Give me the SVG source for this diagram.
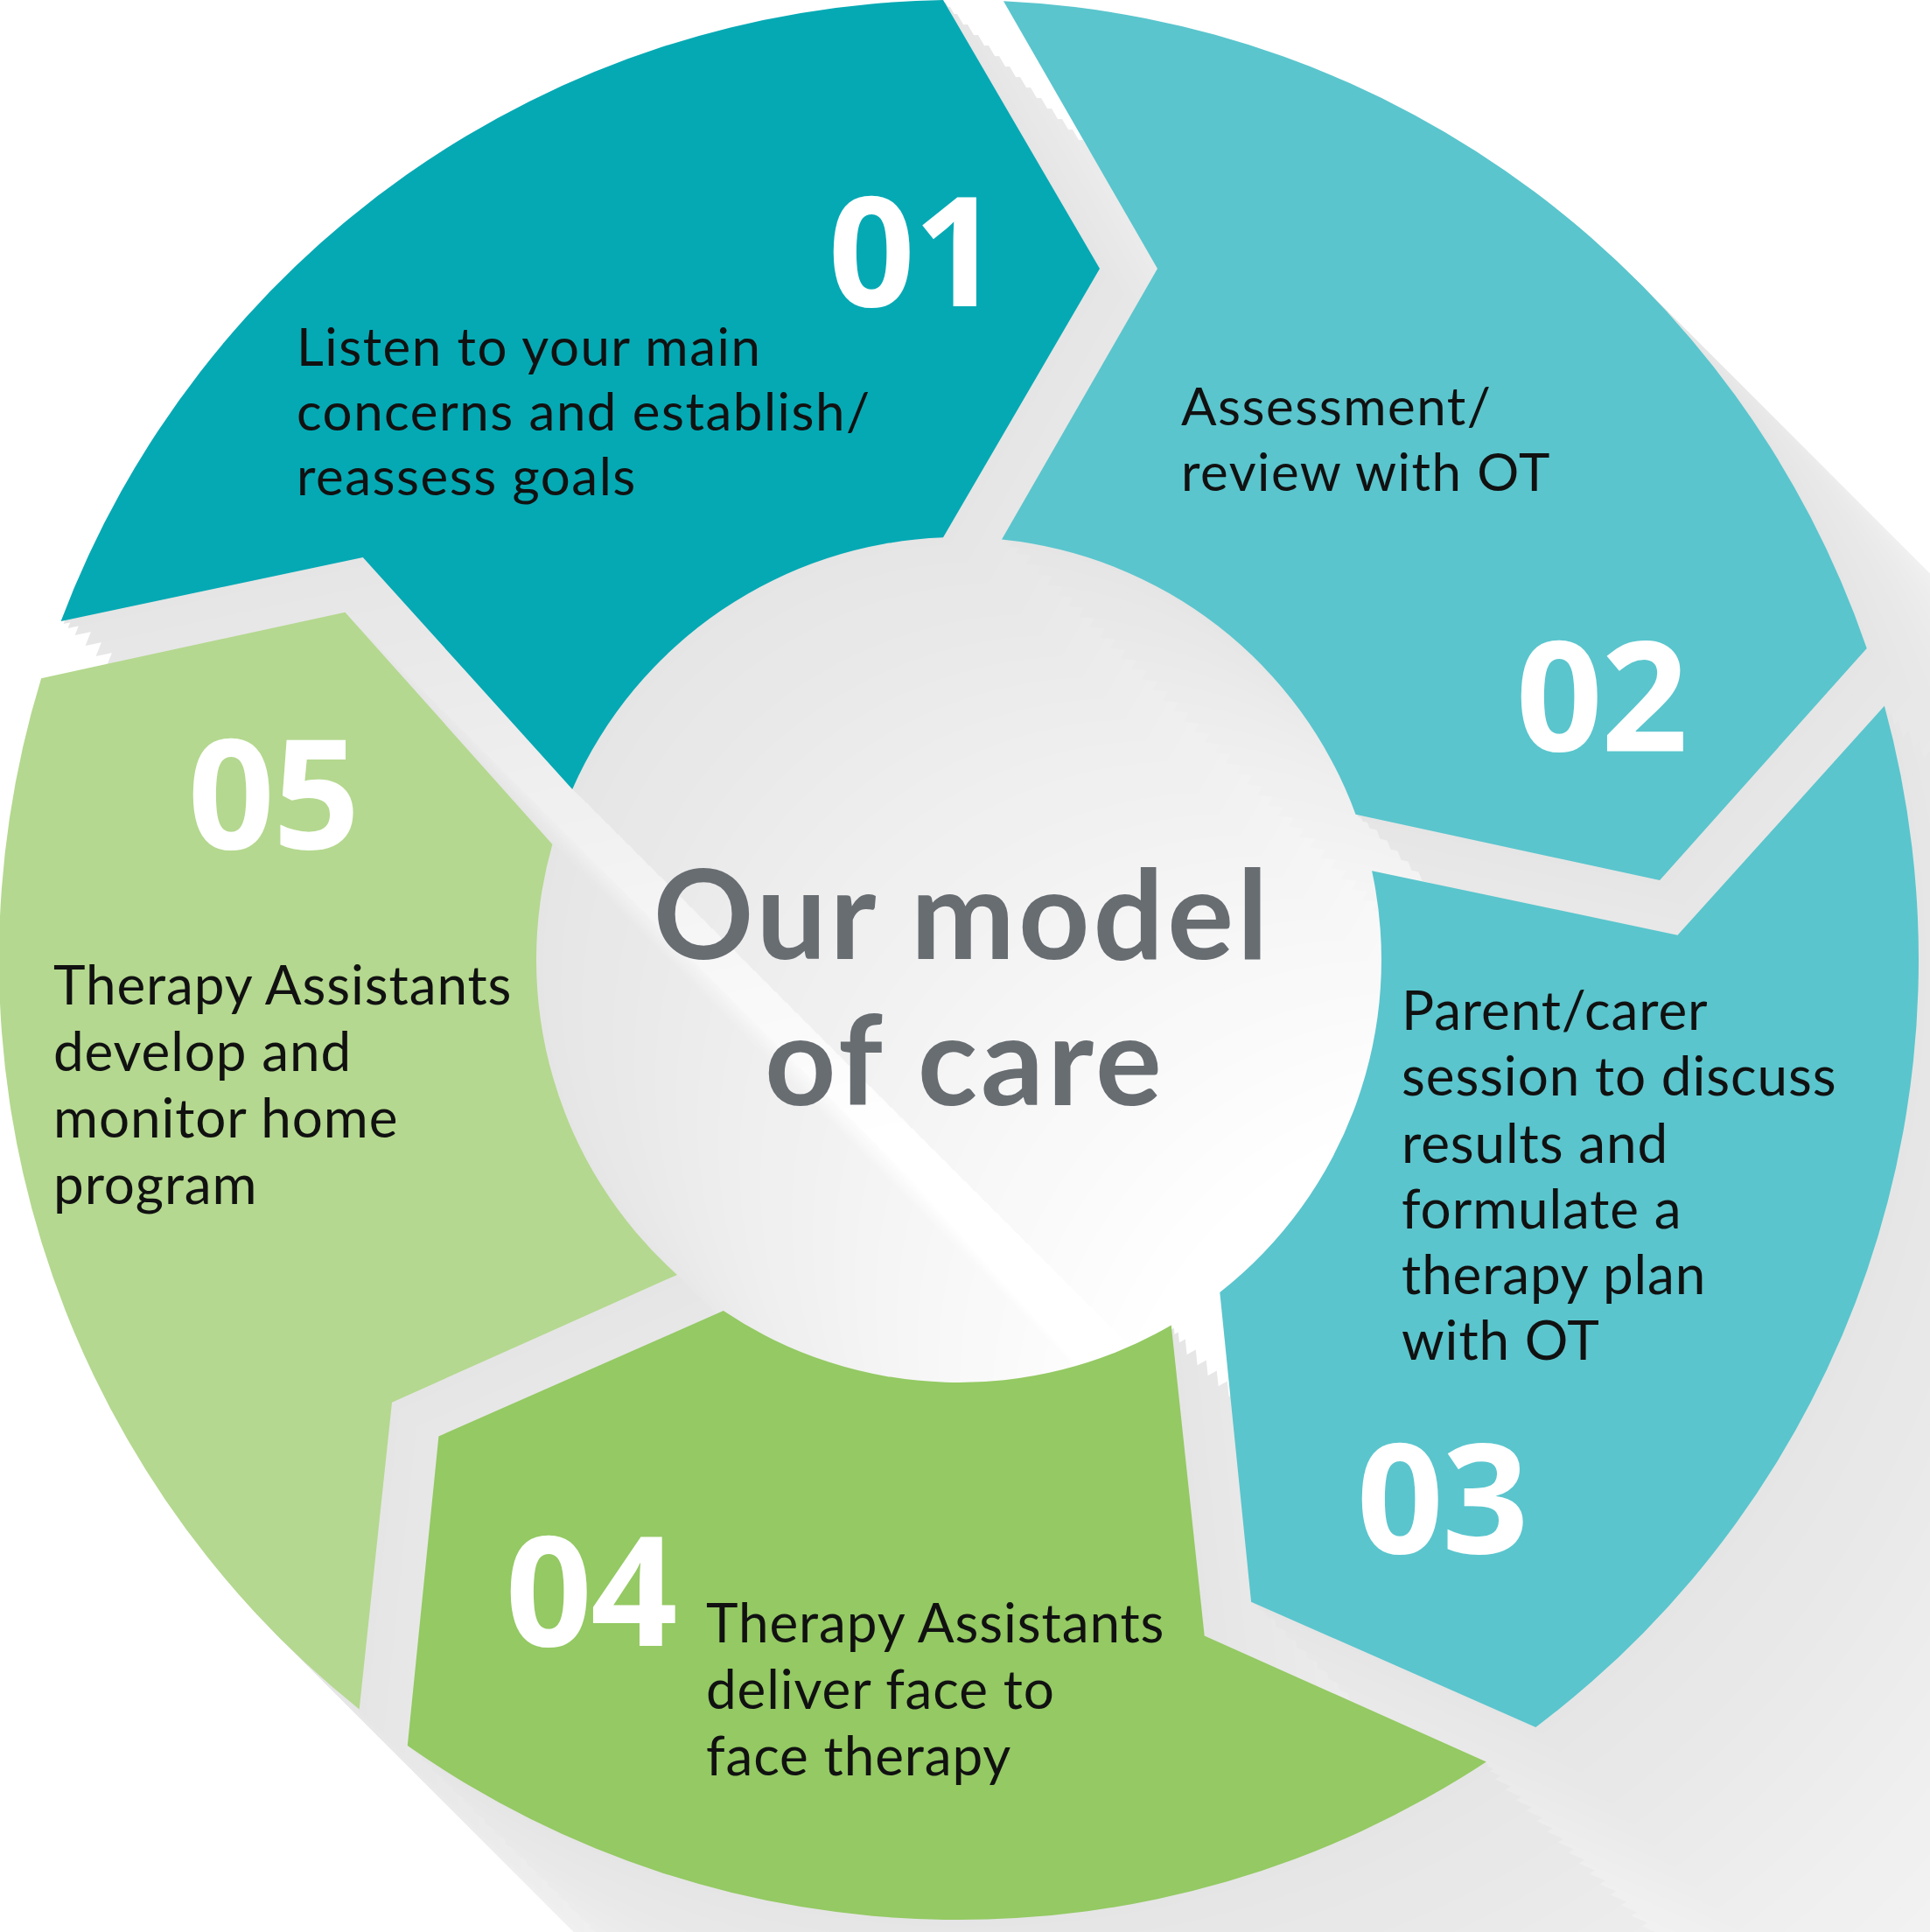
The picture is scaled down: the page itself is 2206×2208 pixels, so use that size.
<svg xmlns="http://www.w3.org/2000/svg" xmlns:xlink="http://www.w3.org/1999/xlink" width="2206" height="2208" viewBox="0 0 2206 2208">
<style>
.lbl{font-family:Lato,"Noto Sans","Liberation Sans",sans-serif;font-size:60px;fill:#111;letter-spacing:1.5px}
.lbl2{font-family:Lato,"Noto Sans","Liberation Sans",sans-serif;font-size:62px;fill:#111;letter-spacing:0.9px}
.num{font-family:"Open Sans","Noto Sans","Liberation Sans",sans-serif;font-weight:700;font-size:174px;fill:#fff;text-anchor:middle;letter-spacing:-2px}
.title{font-family:Lato,"Noto Sans","Liberation Sans",sans-serif;font-weight:700;font-size:142px;fill:#686d72;text-anchor:middle;letter-spacing:4px}
</style>
<defs>
<path id="seg" d="M1078,0 L1257,307 L1078,614.3 A483,483 0 0 0 654.2,901.9 L414.8,637 L69.6,709.9 A1097,1097 0 0 1 1078,0 Z"/>
<g id="ring">
<use href="#seg"/>
<use href="#seg" transform="rotate(72 1096 1097)"/>
<use href="#seg" transform="rotate(144 1096 1097)"/>
<use href="#seg" transform="rotate(216 1096 1097)"/>
<use href="#seg" transform="rotate(288 1096 1097)"/>
</g>
</defs>
<rect width="2206" height="2208" fill="#fff"/>
<g id="shadow">
<g fill="#fefefe"><use href="#ring" x="640" y="640"/><use href="#ring" x="628" y="628"/></g>
<g fill="#fdfdfd"><use href="#ring" x="616" y="616"/><use href="#ring" x="604" y="604"/></g>
<g fill="#fcfcfc"><use href="#ring" x="592" y="592"/><use href="#ring" x="580" y="580"/></g>
<g fill="#fbfbfb"><use href="#ring" x="568" y="568"/><use href="#ring" x="556" y="556"/></g>
<g fill="#fafafa"><use href="#ring" x="544" y="544"/><use href="#ring" x="532" y="532"/></g>
<g fill="#f9f9f9"><use href="#ring" x="520" y="520"/><use href="#ring" x="508" y="508"/><use href="#ring" x="496" y="496"/></g>
<g fill="#f8f8f8"><use href="#ring" x="484" y="484"/><use href="#ring" x="472" y="472"/></g>
<g fill="#f7f7f7"><use href="#ring" x="460" y="460"/><use href="#ring" x="448" y="448"/></g>
<g fill="#f6f6f6"><use href="#ring" x="436" y="436"/><use href="#ring" x="424" y="424"/></g>
<g fill="#f5f5f5"><use href="#ring" x="412" y="412"/><use href="#ring" x="400" y="400"/></g>
<g fill="#f4f4f4"><use href="#ring" x="388" y="388"/><use href="#ring" x="376" y="376"/></g>
<g fill="#f3f3f3"><use href="#ring" x="364" y="364"/><use href="#ring" x="352" y="352"/></g>
<g fill="#f2f2f2"><use href="#ring" x="340" y="340"/><use href="#ring" x="328" y="328"/></g>
<g fill="#f1f1f1"><use href="#ring" x="316" y="316"/><use href="#ring" x="304" y="304"/></g>
<g fill="#f0f0f0"><use href="#ring" x="292" y="292"/><use href="#ring" x="280" y="280"/><use href="#ring" x="268" y="268"/></g>
<g fill="#efefef"><use href="#ring" x="256" y="256"/><use href="#ring" x="244" y="244"/></g>
<g fill="#eeeeee"><use href="#ring" x="232" y="232"/><use href="#ring" x="220" y="220"/></g>
<g fill="#ededed"><use href="#ring" x="208" y="208"/><use href="#ring" x="196" y="196"/></g>
<g fill="#ececec"><use href="#ring" x="184" y="184"/><use href="#ring" x="172" y="172"/></g>
<g fill="#ebebeb"><use href="#ring" x="160" y="160"/><use href="#ring" x="148" y="148"/></g>
<g fill="#eaeaea"><use href="#ring" x="136" y="136"/><use href="#ring" x="124" y="124"/></g>
<g fill="#e9e9e9"><use href="#ring" x="112" y="112"/><use href="#ring" x="100" y="100"/></g>
<g fill="#e8e8e8"><use href="#ring" x="88" y="88"/><use href="#ring" x="76" y="76"/><use href="#ring" x="64" y="64"/></g>
<g fill="#e7e7e7"><use href="#ring" x="52" y="52"/><use href="#ring" x="40" y="40"/></g>
<g fill="#e6e6e6"><use href="#ring" x="28" y="28"/><use href="#ring" x="16" y="16"/></g>
<g fill="#e5e5e5"><use href="#ring" x="8" y="8"/><use href="#ring" x="3" y="3"/></g>
</g>
<g id="step-01">
<use href="#seg" fill="#05a9b4"/>
<text class="num" x="1044" y="350">01</text>
<text class="lbl"><tspan x="339" y="418">Listen to your main</tspan><tspan x="339" y="492">concerns and establish/</tspan><tspan x="339" y="566">reassess goals</tspan></text>
</g>
<g id="step-02">
<use href="#seg" fill="#5ac5cd" transform="rotate(72 1096 1097)"/>
<text class="num" x="1830" y="858">02</text>
<text class="lbl"><tspan x="1350" y="486">Assessment/</tspan><tspan x="1350" y="561">review with OT</tspan></text>
</g>
<g id="step-03">
<use href="#seg" fill="#5ac5cd" transform="rotate(144 1096 1097)"/>
<text class="num" x="1648" y="1775">03</text>
<text class="lbl2"><tspan x="1602" y="1177">Parent/carer</tspan><tspan x="1602" y="1252">session to discuss</tspan><tspan x="1602" y="1329">results and</tspan><tspan x="1602" y="1404">formulate a</tspan><tspan x="1602" y="1479">therapy plan</tspan><tspan x="1602" y="1554">with OT</tspan></text>
</g>
<g id="step-04">
<use href="#seg" fill="#94c963" transform="rotate(216 1096 1097)"/>
<text class="num" x="675" y="1881">04</text>
<text class="lbl2"><tspan x="807" y="1877">Therapy Assistants</tspan><tspan x="807" y="1953">deliver face to</tspan><tspan x="807" y="2029">face therapy</tspan></text>
</g>
<g id="step-05">
<use href="#seg" fill="#b4d88f" transform="rotate(288 1096 1097)"/>
<text class="num" x="312" y="970">05</text>
<text class="lbl2"><tspan x="61" y="1148">Therapy Assistants</tspan><tspan x="61" y="1224">develop and</tspan><tspan x="61" y="1300">monitor home</tspan><tspan x="61" y="1376">program</tspan></text>
</g>
<g id="center">
<text class="title" x="1100" y="1096">Our model</text>
<text class="title" x="1103" y="1263">of care</text>
</g>
</svg>
